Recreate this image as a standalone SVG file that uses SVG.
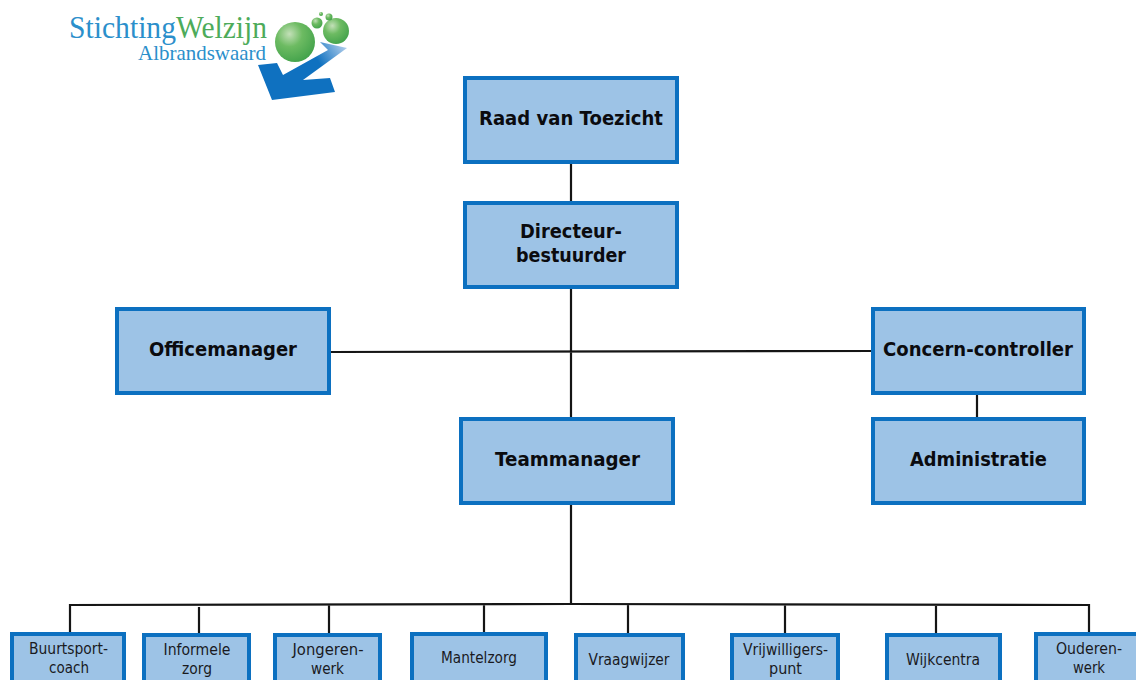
<svg xmlns="http://www.w3.org/2000/svg" width="1136" height="680" viewBox="0 0 1136 680">
<style>
.box{fill:#9dc3e6;stroke:#0c70c0;stroke-width:4}
.b{font:bold 19px "DejaVu Sans",Verdana,sans-serif;fill:#0b0b0f;text-anchor:middle}
.t{font:16.5px "DejaVu Sans",sans-serif;fill:#1a1a1e;text-anchor:middle}
.c{fill:none;stroke:#151515;stroke-width:2.2}
.l{font-family:"Liberation Serif",serif}
</style>
<defs>
<radialGradient id="g" cx="0.36" cy="0.3" r="0.8"><stop offset="0" stop-color="#c3e0b8"/><stop offset="0.4" stop-color="#6dbb62"/><stop offset="1" stop-color="#3d9f48"/></radialGradient>
<linearGradient id="a" gradientUnits="userSpaceOnUse" x1="300" y1="78" x2="345" y2="48"><stop offset="0.45" stop-color="#0f71c0"/><stop offset="1" stop-color="#a9c9e9"/></linearGradient>
</defs>
<rect width="1136" height="680" fill="#fff"/>
<g id="logo">
<path d="M258 65L272 100L335 92L330 78L303 80L347 48L320 42L328 50L283 75L277 63Z" fill="url(#a)"/>
<circle cx="295" cy="42" r="20" fill="url(#g)"/>
<circle cx="336" cy="31" r="13" fill="url(#g)"/>
<circle cx="317" cy="23" r="5.500" fill="url(#g)"/>
<circle cx="329" cy="17" r="3.500" fill="url(#g)"/>
<circle cx="321" cy="14" r="2" fill="url(#g)"/>
<text class="l" x="69" y="38" font-size="32" textLength="107" lengthAdjust="spacingAndGlyphs" fill="#2b8fcb">Stichting</text>
<text class="l" x="176" y="38" font-size="32" textLength="91" lengthAdjust="spacingAndGlyphs" fill="#4dab5a">Welzijn</text>
<text class="l" x="138" y="60" font-size="21" textLength="128" lengthAdjust="spacingAndGlyphs" fill="#2b8fcb">Albrandswaard</text>
</g>
<g id="connectors" class="c">
<path d="M571 163V203M571 288V418M331 352L872 351M977 393V418M571 504V604"/>
<path d="M70 633V605L571 604L1089 605V633M199 607V633M329 605V633M484 605V633M628 605V633M785 605V633M936 605V633"/>
</g>
<g id="n-raad"><rect class="box" x="465" y="78" width="212" height="84"/><text class="b" x="571" y="125" textLength="184" lengthAdjust="spacingAndGlyphs">Raad van Toezicht</text></g>
<g id="n-directeur"><rect class="box" x="465" y="203" width="212" height="84"/><text class="b" x="571" y="238" textLength="102" lengthAdjust="spacingAndGlyphs">Directeur-</text><text class="b" x="571" y="262" textLength="110" lengthAdjust="spacingAndGlyphs">bestuurder</text></g>
<g id="n-office"><rect class="box" x="117" y="309" width="212" height="84"/><text class="b" x="223" y="356" textLength="148" lengthAdjust="spacingAndGlyphs">Officemanager</text></g>
<g id="n-concern"><rect class="box" x="873" y="309" width="211" height="84"/><text class="b" x="978" y="356" textLength="190" lengthAdjust="spacingAndGlyphs">Concern-controller</text></g>
<g id="n-team"><rect class="box" x="461" y="419" width="212" height="84"/><text class="b" x="567.500" y="466" textLength="145" lengthAdjust="spacingAndGlyphs">Teammanager</text></g>
<g id="n-admin"><rect class="box" x="873" y="419" width="211" height="84"/><text class="b" x="978.500" y="466" textLength="137" lengthAdjust="spacingAndGlyphs">Administratie</text></g>
<g id="n-buurt"><rect class="box" x="12" y="634" width="112" height="60"/><text class="t" x="68.500" y="654" textLength="79" lengthAdjust="spacingAndGlyphs">Buurtsport-</text><text class="t" x="69" y="673" textLength="40" lengthAdjust="spacingAndGlyphs">coach</text></g>
<g id="n-informele"><rect class="box" x="144" y="635" width="105" height="60"/><text class="t" x="197" y="655" textLength="67" lengthAdjust="spacingAndGlyphs">Informele</text><text class="t" x="197" y="674" textLength="30" lengthAdjust="spacingAndGlyphs">zorg</text></g>
<g id="n-jongeren"><rect class="box" x="275" y="635" width="105" height="60"/><text class="t" x="328" y="655" textLength="71" lengthAdjust="spacingAndGlyphs">Jongeren-</text><text class="t" x="327.500" y="674" textLength="33" lengthAdjust="spacingAndGlyphs">werk</text></g>
<g id="n-mantel"><rect class="box" x="412" y="634" width="134" height="60"/><text class="t" x="479" y="663" textLength="76" lengthAdjust="spacingAndGlyphs">Mantelzorg</text></g>
<g id="n-vraag"><rect class="box" x="576" y="635" width="107" height="60"/><text class="t" x="629" y="665" textLength="81" lengthAdjust="spacingAndGlyphs">Vraagwijzer</text></g>
<g id="n-vrij"><rect class="box" x="732" y="635" width="106" height="60"/><text class="t" x="785.500" y="655" textLength="85" lengthAdjust="spacingAndGlyphs">Vrijwilligers-</text><text class="t" x="785.500" y="674" textLength="33" lengthAdjust="spacingAndGlyphs">punt</text></g>
<g id="n-wijk"><rect class="box" x="887" y="635" width="113" height="60"/><text class="t" x="943" y="665" textLength="74" lengthAdjust="spacingAndGlyphs">Wijkcentra</text></g>
<g id="n-ouderen"><rect class="box" x="1036" y="634" width="110" height="60"/><text class="t" x="1089" y="654" textLength="66" lengthAdjust="spacingAndGlyphs">Ouderen-</text><text class="t" x="1089" y="673" textLength="32" lengthAdjust="spacingAndGlyphs">werk</text></g>
</svg>
